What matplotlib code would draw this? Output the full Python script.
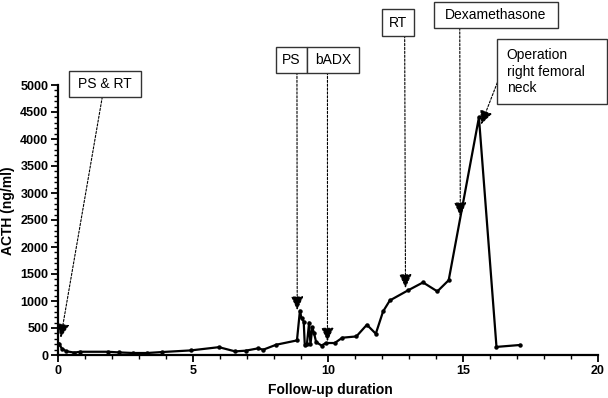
import matplotlib
matplotlib.use("Agg")
import matplotlib.pyplot as plt
from matplotlib.patches import Rectangle
from matplotlib.ticker import MultipleLocator

plt.rcParams['font.family'] = ['Liberation Sans', 'DejaVu Sans']

# Data (follow-up duration, ACTH ng/ml)
years = [0.04, 0.14, 0.3, 0.6, 0.82, 1.84, 2.26, 2.78, 3.3, 3.86, 4.92, 5.96,
         6.56, 6.95, 7.41, 7.6, 8.08, 8.85, 8.96, 9.02, 9.1, 9.14, 9.22, 9.3,
         9.35, 9.42, 9.48, 9.56, 9.76, 9.92, 10.25, 10.53, 11.05, 11.44, 11.77,
         12.04, 12.29, 12.96, 13.52, 14.05, 14.47, 15.59, 16.24, 17.1]
acth = [210, 120, 70, 45, 60, 60, 48, 37, 37, 55, 85, 145,
        67, 80, 123, 98, 190, 270, 820, 680, 620, 185, 205, 600,
        195, 510, 410, 240, 175, 222, 222, 320, 344, 560, 394,
        807, 1010, 1196, 1344, 1178, 1385, 4400, 150, 185]

# Event annotations: label, arrow start (data), arrow tip (data)
events = ["PS & RT", "PS", "bADX", "RT", "Dexamethasone",
          "Operation\nright femoral\nneck"]
arrow_start = [(1.64, 4778), (8.85, 5233), (9.98, 5233), (12.84, 5913),
               (14.88, 6055), (16.27, 5043)]
arrow_tip = [(0.1, 320), (8.86, 830), (9.98, 250), (12.87, 1240),
             (14.9, 2570), (15.67, 4270)]
# box extents in pixels (x0, y0, x1, y1), measured from top-left
boxes = [(69.3, 70.7, 141, 97.3), (275.7, 46.7, 306.7, 72.7),
         (306.7, 46.7, 359, 72.7), (382, 9.3, 413.7, 36),
         (434, 1.7, 557.7, 28.3), (496.7, 39, 607, 104.3)]

W, H = 608, 398
fig = plt.figure(figsize=(W / 100, H / 100), dpi=100)
ax = fig.add_axes([58 / W, 1 - 355 / H, 540 / W, 270 / H])

ax.plot(years, acth, color='black', lw=1.6, marker='o', ms=2.2, clip_on=False, zorder=3)

ax.set_xlim(0, 20)
ax.set_ylim(0, 5000)
ax.xaxis.set_major_locator(MultipleLocator(5))
ax.xaxis.set_minor_locator(MultipleLocator(1))
ax.yaxis.set_major_locator(MultipleLocator(500))
ax.yaxis.set_minor_locator(MultipleLocator(100))
for s in ['top', 'right']:
    ax.spines[s].set_visible(False)
for s in ['left', 'bottom']:
    ax.spines[s].set_linewidth(1.6)
ax.tick_params(which='major', length=5, width=1.3, direction='out', labelsize=9, pad=2)
ax.tick_params(which='minor', length=3, width=1.0, direction='out')
for lab in ax.get_xticklabels() + ax.get_yticklabels():
    lab.set_fontweight('bold')

ax.set_ylabel("ACTH (ng/ml)", fontsize=10, fontweight='bold')
ax.set_xlabel("Follow-up duration", fontsize=10, fontweight='bold')
ax.yaxis.set_label_coords(-0.08, 0.535)
ax.xaxis.set_label_coords(0.504, -0.103)

for st, tp in zip(arrow_start, arrow_tip):
    ax.annotate("", xy=tp, xytext=st, xycoords='data', textcoords='data',
                annotation_clip=False,
                arrowprops=dict(arrowstyle='-|>,head_length=0.85,head_width=0.38',
                                color='black', lw=0.8, linestyle=(0, (2, 1.5)),
                                shrinkA=0, shrinkB=0, mutation_scale=10))

for (x0, y0, x1, y1), txt in zip(boxes, events):
    fig.add_artist(Rectangle((x0 / W, 1 - y1 / H), (x1 - x0) / W, (y1 - y0) / H,
                             transform=fig.transFigure, facecolor='white',
                             edgecolor='#333333', lw=1.0, zorder=5))
    cy = (y0 + y1) / 2
    if "\n" in txt:
        fig.text((x0 + 10) / W, 1 - cy / H, txt, ha='left', va='center',
                 fontsize=10, linespacing=1.25, zorder=6)
    else:
        fig.text((x0 + x1) / 2 / W, 1 - cy / H, txt, ha='center', va='center',
                 fontsize=10, zorder=6)

fig.savefig("out.png", dpi=100)
